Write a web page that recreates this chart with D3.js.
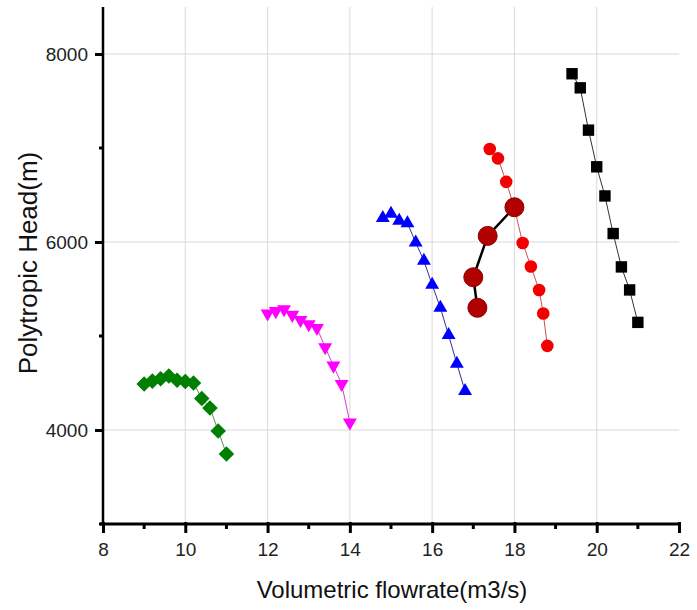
<!DOCTYPE html>
<meta charset="utf-8">
<style>
body { margin: 0; background: #fff; }
svg { font-family: Arial, "Liberation Sans", sans-serif; }
.grid line { stroke: #d9d9d9; stroke-width: 1; }
.axis path, .axis line { stroke: #000; }
.axis text { fill: #222; font-size: 19px; }
</style>
<svg width="697" height="610"></svg>
<script src="https://d3js.org/d3.v7.min.js"></script>
<script>

// series data
var greenX = [9.0, 9.2, 9.4, 9.6, 9.8, 10.0, 10.2, 10.4, 10.6, 10.8, 11.0];
var greenY = [4490, 4520, 4545, 4575, 4530, 4515, 4500, 4335, 4235, 3990, 3745];

var magentaX = [12.0, 12.2, 12.4, 12.6, 12.8, 13.0, 13.2, 13.4, 13.6, 13.8, 14.0];
var magentaY = [5240, 5265, 5285, 5225, 5170, 5125, 5085, 4880, 4685, 4490, 4080];

var blueX = [14.8, 15.0, 15.2, 15.4, 15.6, 15.8, 16.0, 16.2, 16.4, 16.6, 16.8];
var blueY = [6255, 6300, 6225, 6200, 5995, 5800, 5545, 5300, 5010, 4705, 4415];

var redX = [17.4, 17.6, 17.8, 18.0, 18.2, 18.4, 18.6, 18.7, 18.8];
var redY = [6990, 6890, 6640, 6360, 5990, 5740, 5490, 5240, 4895];

var darkX = [17.1, 17.0, 17.35, 18.0];
var darkY = [5300, 5625, 6065, 6370];

var blackX = [19.4, 19.6, 19.8, 20.0, 20.2, 20.4, 20.6, 20.8, 21.0];
var blackY = [7790, 7640, 7190, 6800, 6490, 6090, 5735, 5490, 5145];

var xTicks = [8, 10, 12, 14, 16, 18, 20, 22];
var xMinor = [9, 11, 13, 15, 17, 19, 21];
var yTicks = [4000, 6000, 8000];
var yMinor = [3000, 5000, 7000];

var xTitle = "Volumetric flowrate(m3/s)";
var yTitle = "Polytropic Head(m)";

var svg = d3.select("svg");
var plotL = 103, plotR = 679, plotT = 7, plotB = 524;

var x = d3.scaleLinear().domain([8, 22]).range([plotL, plotR]);
var y = d3.scaleLinear().domain([3000, 8500]).range([plotB, plotT]);

function zip(xs, ys) {
  return xs.map(function(v, i) { return [v, ys[i]]; });
}

// grid lines
var grid = svg.append("g").attr("class", "grid");
grid.selectAll(".vx").data([10, 12, 14, 16, 18, 20]).enter().append("line")
  .attr("x1", function(d) { return x(d); }).attr("x2", function(d) { return x(d); })
  .attr("y1", plotT).attr("y2", plotB);
grid.selectAll(".hy").data(yTicks).enter().append("line")
  .attr("x1", plotL).attr("x2", plotR)
  .attr("y1", function(d) { return y(d); }).attr("y2", function(d) { return y(d); });

// series
var series = [
  {pts: zip(greenX, greenY), color: "#007f00", line: "#5a8f5a", lw: 1, shape: "diamond"},
  {pts: zip(magentaX, magentaY), color: "#ff00ff", line: "#d040d0", lw: 1, shape: "down"},
  {pts: zip(blueX, blueY), color: "#0000ff", line: "#3030a0", lw: 1, shape: "up"},
  {pts: zip(redX, redY), color: "#f20000", line: "#d05050", lw: 1, shape: "circle"},
  {pts: zip(darkX, darkY), color: "#b00000", line: "#000", lw: 2.5, shape: "big"},
  {pts: zip(blackX, blackY), color: "#000", line: "#333", lw: 1, shape: "square"}
];

var line = d3.line().x(function(d) { return x(d[0]); }).y(function(d) { return y(d[1]); });

function marker(sel, s) {
  var g = sel.selectAll(".m").data(s.pts).enter().append("g")
    .attr("transform", function(d) { return "translate(" + x(d[0]) + "," + y(d[1]) + ")"; });
  if (s.shape == "diamond") {
    g.append("rect").attr("x", -5.5).attr("y", -5.5).attr("width", 11).attr("height", 11)
      .attr("transform", "rotate(45)").attr("fill", s.color);
  } else if (s.shape == "square") {
    g.append("rect").attr("x", -5.7).attr("y", -5.7).attr("width", 11.4).attr("height", 11.4)
      .attr("fill", s.color);
  } else if (s.shape == "up") {
    g.append("path").attr("d", d3.symbol().type(d3.symbolTriangle).size(84)).attr("fill", s.color);
  } else if (s.shape == "down") {
    g.append("path").attr("d", d3.symbol().type(d3.symbolTriangle).size(84))
      .attr("transform", "rotate(180)").attr("fill", s.color);
  } else if (s.shape == "circle") {
    g.append("circle").attr("r", 6.3).attr("fill", s.color);
  } else {
    g.append("circle").attr("r", 9.5).attr("fill", s.color).attr("stroke", "#8a0000").attr("stroke-width", 1);
  }
}

series.forEach(function(s) {
  var g = svg.append("g");
  g.append("path").datum(s.pts).attr("d", line)
    .attr("fill", "none").attr("stroke", s.line).attr("stroke-width", s.lw);
});
series.forEach(function(s) {
  marker(svg.append("g"), s);
});

// axes
var xAxis = svg.append("g").attr("class", "axis").attr("transform", "translate(0," + plotB + ")")
  .call(d3.axisBottom(x).tickValues(xTicks).tickSize(9).tickPadding(10).tickFormat(d3.format("d")));
xAxis.select(".domain").attr("d", "M" + (plotL - 3) + ",0H" + plotR).attr("stroke-width", 3);
xAxis.selectAll(".tick line").attr("stroke-width", 3).attr("y1", -2);
xAxis.selectAll(".minor").data(xMinor).enter().append("line").attr("class", "minor")
  .attr("x1", function(d) { return x(d); }).attr("x2", function(d) { return x(d); })
  .attr("y1", 0).attr("y2", 5).attr("stroke", "#000").attr("stroke-width", 3);

var yAxis = svg.append("g").attr("class", "axis").attr("transform", "translate(" + plotL + ",0)")
  .call(d3.axisLeft(y).tickValues(yTicks).tickSize(8).tickPadding(7).tickFormat(d3.format("d")));
yAxis.select(".domain").attr("d", "M0," + plotT + "V" + plotB).attr("stroke-width", 2.5);
yAxis.selectAll(".tick line").attr("stroke-width", 3);
yAxis.selectAll(".minor").data(yMinor).enter().append("line").attr("class", "minor")
  .attr("y1", function(d) { return y(d); }).attr("y2", function(d) { return y(d); })
  .attr("x1", 0).attr("x2", -4).attr("stroke", "#000").attr("stroke-width", 3);

// titles
svg.append("text").attr("x", 392).attr("y", 598)
  .attr("text-anchor", "middle").attr("font-size", 24).attr("fill", "#111").text(xTitle);
svg.append("text").attr("transform", "translate(37,263) rotate(-90)")
  .attr("text-anchor", "middle").attr("font-size", 26).attr("fill", "#111").text(yTitle);

</script>
